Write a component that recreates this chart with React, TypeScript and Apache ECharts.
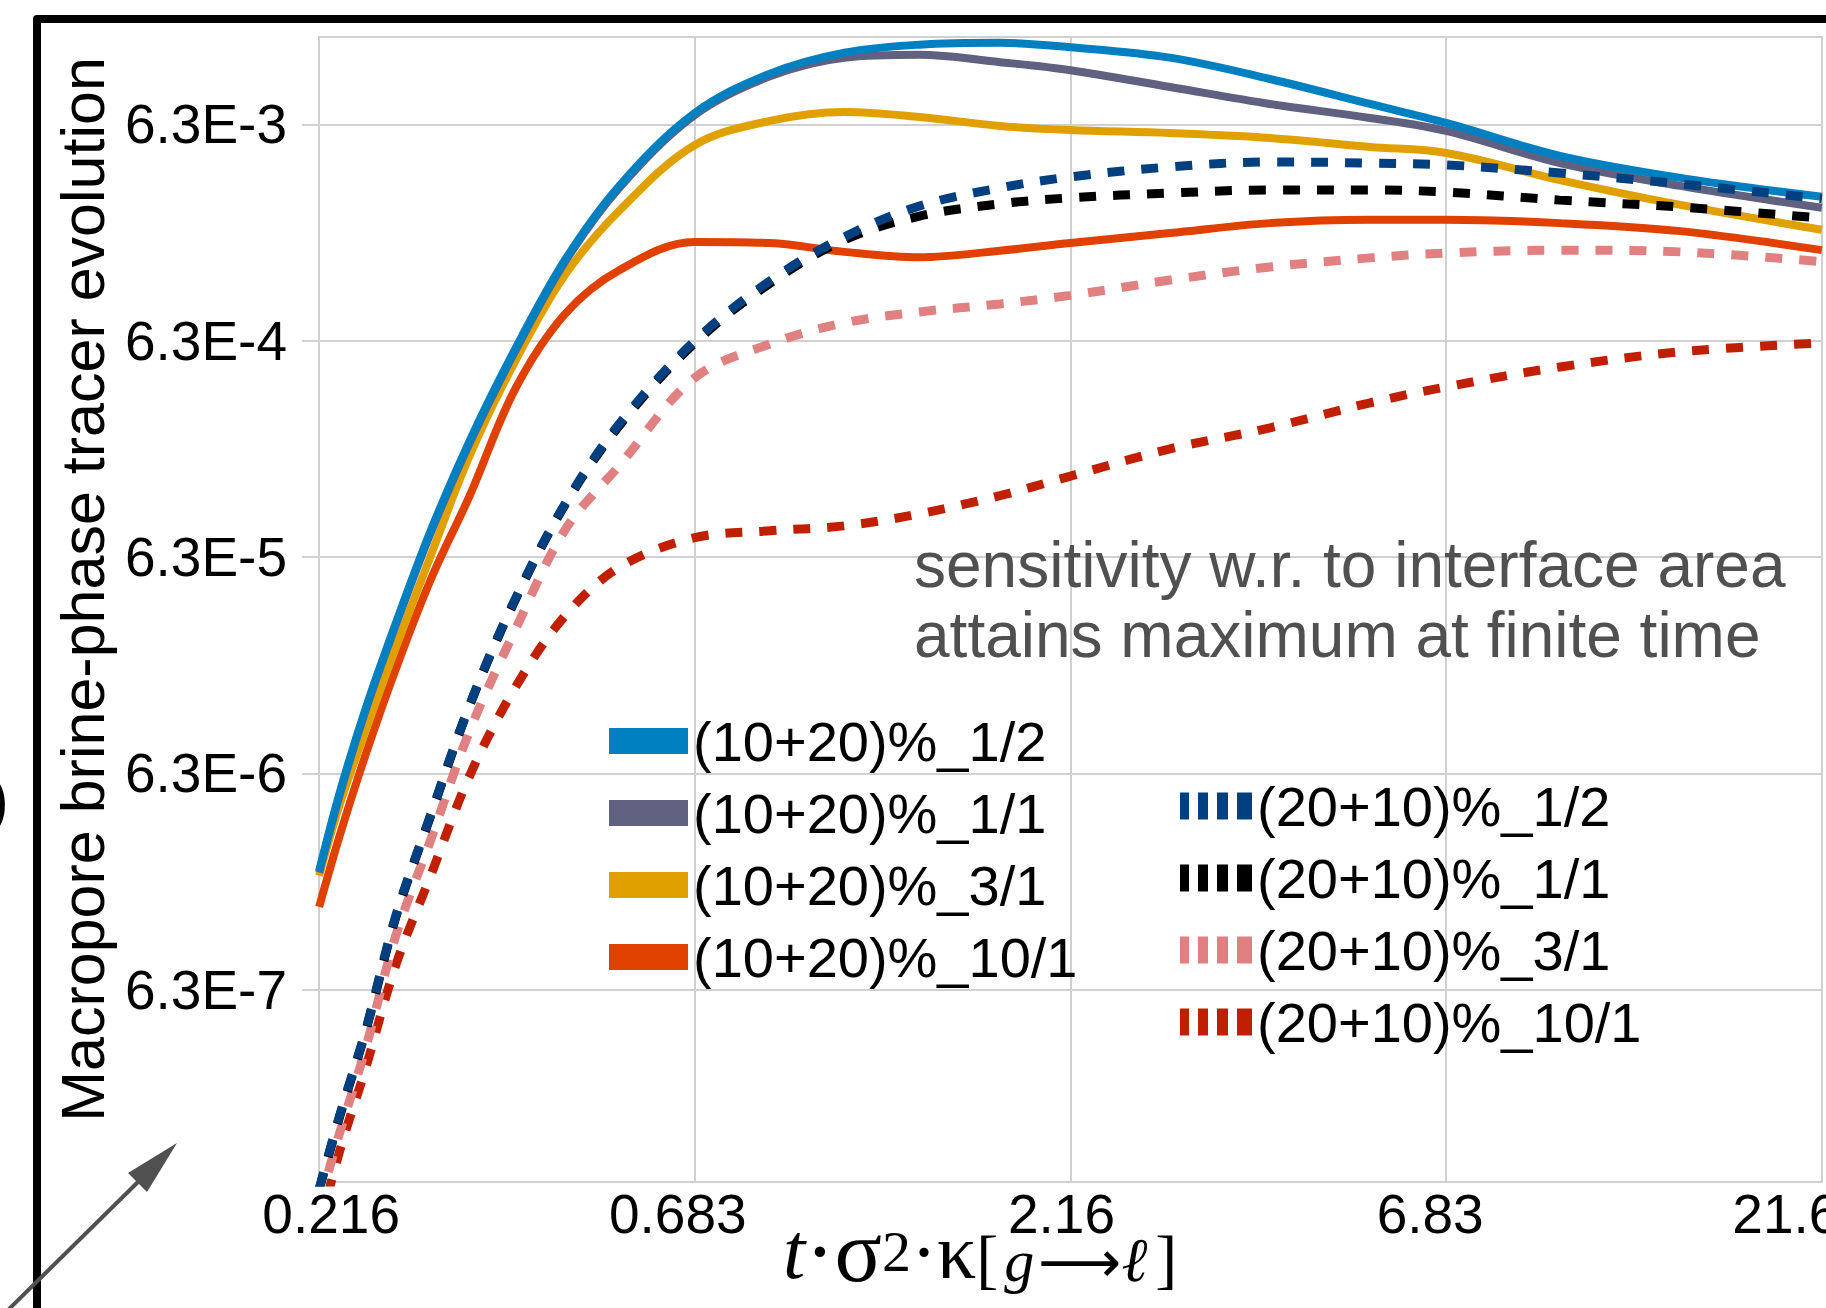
import React, { useEffect, useRef } from "react";
import * as echarts from "echarts";

// ---------- data ----------
const tValues = [0.216, 0.23, 0.249, 0.273, 0.304, 0.343, 0.394, 0.459, 0.543, 0.683, 0.86, 1.08, 1.36, 1.74, 2.16, 2.93, 3.98, 5.41, 6.83, 9.68, 14.0, 21.6];

const s1020_1_2 = [2.23e-6, 5.12e-6, 1.25e-5, 3.09e-5, 8.32e-5, 2.19e-4, 5.77e-4, 1.49e-3, 3.3e-3, 7.1e-3, 1.08e-2, 1.35e-2, 1.47e-2, 1.5e-2, 1.43e-2, 1.28e-2, 1.02e-2, 7.82e-3, 6.39e-3, 4.5e-3, 3.56e-3, 2.91e-3];
const s1020_1_1 = [2.19e-6, 5.01e-6, 1.23e-5, 3.03e-5, 8.14e-5, 2.14e-4, 5.65e-4, 1.46e-3, 3.23e-3, 6.96e-3, 1.05e-2, 1.28e-2, 1.32e-2, 1.22e-2, 1.12e-2, 9.37e-3, 7.82e-3, 6.74e-3, 5.87e-3, 4.17e-3, 3.27e-3, 2.59e-3];
const s1020_3_1 = [2.12e-6, 4.51e-6, 9.9e-6, 2.39e-5, 6.37e-5, 1.87e-4, 5.07e-4, 1.27e-3, 2.53e-3, 5.05e-3, 6.53e-3, 7.18e-3, 6.81e-3, 6.19e-3, 5.93e-3, 5.74e-3, 5.45e-3, 4.95e-3, 4.64e-3, 3.48e-3, 2.67e-3, 2.05e-3];
const s1020_10_1 = [1.52e-6, 3.24e-6, 7.67e-6, 1.9e-5, 4.94e-5, 1.22e-4, 3.77e-4, 8.37e-4, 1.34e-3, 1.8e-3, 1.78e-3, 1.62e-3, 1.53e-3, 1.64e-3, 1.78e-3, 1.98e-3, 2.2e-3, 2.28e-3, 2.28e-3, 2.2e-3, 2.02e-3, 1.65e-3];
const s2010_1_2 = [7.57e-8, 1.65e-7, 4.07e-7, 1.37e-6, 4.05e-6, 1.32e-5, 4.03e-5, 1.11e-4, 2.62e-4, 6.28e-4, 1.19e-3, 1.9e-3, 2.64e-3, 3.2e-3, 3.6e-3, 4.0e-3, 4.22e-3, 4.17e-3, 4.09e-3, 3.75e-3, 3.34e-3, 2.85e-3];
const s2010_1_1 = [7.49e-8, 1.63e-7, 4.03e-7, 1.35e-6, 4.01e-6, 1.31e-5, 3.99e-5, 1.1e-4, 2.57e-4, 6.15e-4, 1.16e-3, 1.84e-3, 2.37e-3, 2.7e-3, 2.88e-3, 3.03e-3, 3.13e-3, 3.13e-3, 3.06e-3, 2.81e-3, 2.61e-3, 2.32e-3];
const s2010_3_1 = [6.39e-8, 1.37e-7, 3.36e-7, 1.11e-6, 3.1e-6, 1.0e-5, 2.9e-5, 8.4e-5, 1.68e-4, 4.24e-4, 6.08e-4, 7.61e-4, 8.55e-4, 9.31e-4, 1.02e-3, 1.2e-3, 1.38e-3, 1.52e-3, 1.6e-3, 1.65e-3, 1.62e-3, 1.46e-3];
const s2010_10_1 = [4.95e-8, 1.13e-7, 2.72e-7, 8.12e-7, 2.12e-6, 6.2e-6, 1.57e-5, 3.37e-5, 5.67e-5, 7.73e-5, 8.32e-5, 8.77e-5, 9.97e-5, 1.21e-4, 1.49e-4, 1.99e-4, 2.49e-4, 3.25e-4, 3.85e-4, 4.76e-4, 5.59e-4, 6.15e-4];

const seriesNames = [
  "(10+20)%_1/2",
  "(10+20)%_1/1",
  "(10+20)%_3/1",
  "(10+20)%_10/1",
  "(20+10)%_1/2",
  "(20+10)%_1/1",
  "(20+10)%_3/1",
  "(20+10)%_10/1",
];
const seriesValues = [s1020_1_2, s1020_1_1, s1020_3_1, s1020_10_1, s2010_1_2, s2010_1_1, s2010_3_1, s2010_10_1];

const xTickValues = [0.216, 0.683, 2.16, 6.83, 21.6];
const xTickLabels = ["0.216", "0.683", "2.16", "6.83", "21.6"];
const yTickValues = [6.3e-7, 6.3e-6, 6.3e-5, 6.3e-4, 6.3e-3];
const yTickLabels = ["6.3E-7", "6.3E-6", "6.3E-5", "6.3E-4", "6.3E-3"];
const xRange = [0.2159, 21.61];
const yRange = [8.13e-8, 1.595e-2];

const yTitle = "Macropore brine-phase tracer evolution";
const noteText = "sensitivity w.r. to interface area\nattains maximum at finite time";

// ---------- styles ----------
const SANS = "'Liberation Sans', Arial, sans-serif";
const SERIF = "'Liberation Serif', 'Times New Roman', serif";
const seriesColors = ["#0080c0", "#606080", "#e0a000", "#e04000", "#004080", "#000000", "#e08080", "#c02000"];
const seriesDashed = [false, false, false, false, true, true, true, true];
const seriesZ = [6, 5, 4, 3, 10, 9, 8, 7];
const xLabelShift = [12, -17, -9, -16, -36];
const GRID_COLOR = "#d0d0d0";

const nearestIndex = (arr: number[], v: number) => {
  let bi = 0;
  let bd = Infinity;
  arr.forEach((a, i) => {
    const d = Math.abs(Math.log10(a) - Math.log10(v));
    if (d < bd) {
      bd = d;
      bi = i;
    }
  });
  return bi;
};

const xRich: Record<string, any> = {};
xLabelShift.forEach((s, i) => {
  xRich["l" + i] = {
    fontSize: 55,
    fontFamily: SANS,
    color: "#000",
    padding: s > 0 ? [0, 0, 0, 2 * s] : [0, -2 * s, 0, 0],
  };
});

const dashIcon = "path://M0,0h9v27h-9z M18,0h10v27h-10z M37,0h11v27h-11z M57,0h15v27h-15z";

export default function App() {
  const ref = useRef<HTMLDivElement>(null);

  useEffect(() => {
    if (!ref.current) return;
    const chart = echarts.init(ref.current, undefined, { renderer: "svg" });

    const series = seriesNames.map((name, k) => ({
      name,
      type: "line",
      data: tValues.map((t, i) => [t, seriesValues[k][i]]),
      showSymbol: false,
      symbol: "none",
      smooth: 0.35,
      z: seriesZ[k],
      clip: true,
      silent: true,
      emphasis: { disabled: true },
      itemStyle: { color: seriesColors[k] },
      lineStyle: {
        color: seriesColors[k],
        width: seriesDashed[k] ? 9 : 8,
        type: seriesDashed[k] ? [17, 17] : "solid",
        cap: "butt",
      },
    }));

    const legendText = { fontSize: 56, lineHeight: 56, color: "#000", fontFamily: SANS };

    const option: any = {
      animation: false,
      backgroundColor: "#ffffff",
      textStyle: { fontFamily: SANS },
      grid: {
        left: 319,
        top: 37,
        right: 4,
        bottom: 126,
        show: true,
        borderColor: GRID_COLOR,
        borderWidth: 2,
        backgroundColor: "transparent",
        containLabel: false,
        outerBoundsMode: "none",
      },
      xAxis: {
        type: "log",
        logBase: 10,
        min: xRange[0],
        max: xRange[1],
        axisLine: { show: false },
        axisTick: { show: false, customValues: xTickValues },
        splitLine: { show: true, lineStyle: { color: GRID_COLOR, width: 2 } },
        axisLabel: {
          customValues: xTickValues,
          margin: 4,
          fontSize: 55,
          fontFamily: SANS,
          color: "#000",
          formatter: (v: number) => {
            const i = nearestIndex(xTickValues, v);
            return "{l" + i + "|" + xTickLabels[i] + "}";
          },
          rich: xRich,
        },
      },
      yAxis: {
        type: "log",
        logBase: 10,
        min: yRange[0],
        max: yRange[1],
        name: yTitle,
        nameLocation: "middle",
        nameRotate: 90,
        nameGap: 206,
        nameTextStyle: { fontSize: 61, color: "#000", fontFamily: SANS, padding: [0, 0, 0, 40] },
        axisLine: { show: false },
        axisTick: { show: true, length: 17, customValues: yTickValues, lineStyle: { color: GRID_COLOR, width: 2 } },
        splitLine: { show: true, lineStyle: { color: GRID_COLOR, width: 2 } },
        axisLabel: {
          customValues: yTickValues,
          margin: 32,
          fontSize: 55,
          fontFamily: SANS,
          color: "#000",
          formatter: (v: number) => yTickLabels[nearestIndex(yTickValues, v)],
        },
      },
      legend: [
        {
          data: seriesNames.slice(0, 4),
          orient: "vertical",
          left: 609,
          top: 713,
          padding: 0,
          itemWidth: 79,
          itemHeight: 26,
          itemGap: 16,
          icon: "rect",
          selectedMode: false,
          itemStyle: { borderWidth: 0 },
          textStyle: legendText,
        },
        {
          data: seriesNames.slice(4),
          orient: "vertical",
          left: 1180,
          top: 778,
          padding: 0,
          itemWidth: 72,
          itemHeight: 27,
          itemGap: 16,
          icon: dashIcon,
          selectedMode: false,
          itemStyle: { borderWidth: 0 },
          textStyle: legendText,
        },
      ],
      graphic: [
        {
          type: "polyline",
          silent: true,
          z: 100,
          shape: { points: [[37, 1330], [37, 19], [1850, 19]] },
          style: { stroke: "#000", lineWidth: 8, fill: null, lineJoin: "round" },
        },
        {
          type: "line",
          silent: true,
          z: 100,
          shape: { x1: 4, y1: 1314, x2: 140, y2: 1180 },
          style: { stroke: "#505050", lineWidth: 4 },
        },
        {
          type: "polygon",
          silent: true,
          z: 100,
          shape: { points: [[177, 1143], [128, 1173], [147, 1192]] },
          style: { fill: "#505050" },
        },
        {
          type: "text",
          silent: true,
          z: 100,
          x: -13,
          y: 799,
          style: { text: ")", fontSize: 66, fontFamily: SANS, fill: "#000", verticalAlign: "middle", align: "left" },
        },
        {
          type: "text",
          silent: true,
          z: 100,
          x: 914,
          y: 530,
          style: {
            text: noteText,
            fontSize: 64,
            lineHeight: 70,
            fontFamily: SANS,
            fill: "#505050",
            verticalAlign: "top",
            align: "left",
          },
        },
        {
          type: "text",
          silent: true,
          z: 100,
          x: 783,
          y: 1211,
          style: {
            text: "{t|t}{a|·σ}{s|2}{b|·κ}{e|[}{g|g}{c|⟶}{l|ℓ}{d|]}",
            verticalAlign: "top",
            align: "left",
            fill: "#000",
            rich: {
              t: { fontFamily: SERIF, fontStyle: "italic", fontSize: 80, lineHeight: 80, verticalAlign: "middle", fill: "#000" },
              a: { fontFamily: SERIF, fontSize: 88, lineHeight: 80, verticalAlign: "middle", fill: "#000" },
              s: { fontFamily: SERIF, fontSize: 58, lineHeight: 44, verticalAlign: "top", fill: "#000", padding: [11, 0, 0, 0] },
              b: { fontFamily: SERIF, fontSize: 78, lineHeight: 80, verticalAlign: "middle", fill: "#000" },
              e: { fontFamily: SERIF, fontSize: 66, lineHeight: 56, verticalAlign: "bottom", fill: "#000" },
              g: { fontFamily: SERIF, fontStyle: "italic", fontSize: 60, lineHeight: 40, verticalAlign: "bottom", fill: "#000", padding: [0, 4, 0, 6] },
              c: { fontFamily: "'DejaVu Sans', sans-serif", fontSize: 58, lineHeight: 10, verticalAlign: "bottom", fill: "#000" },
              l: { fontFamily: SERIF, fontStyle: "italic", fontSize: 62, lineHeight: 60, verticalAlign: "bottom", fill: "#000" },
              d: { fontFamily: SERIF, fontSize: 66, lineHeight: 56, verticalAlign: "bottom", fill: "#000", padding: [0, 0, 0, 8] },
            },
          },
        },
      ],
      series,
    };

    chart.setOption(option);
    return () => {
      chart.dispose();
    };
  }, []);

  return (
    <div
      ref={ref}
      style={{ position: "fixed", left: 0, top: 0, width: 1826, height: 1308, background: "#fff" }}
    />
  );
}
